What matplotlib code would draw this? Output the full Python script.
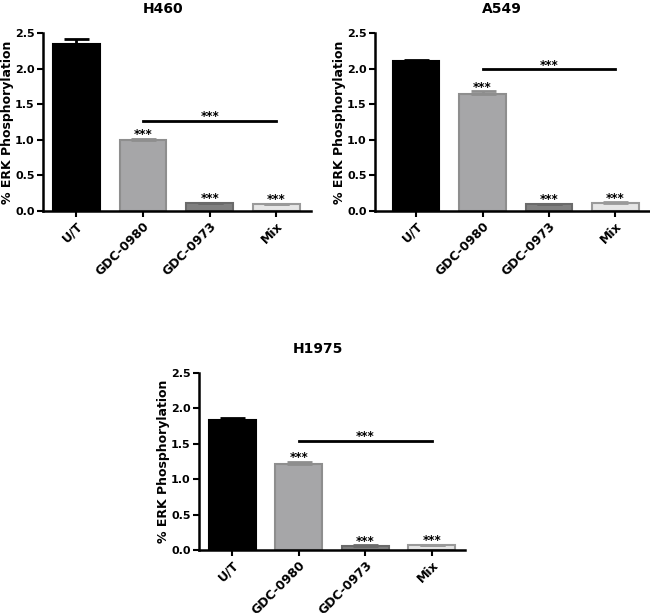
import matplotlib
matplotlib.use("Agg")
import matplotlib.pyplot as plt

categories = ["U/T", "GDC-0980", "GDC-0973", "Mix"]
yticks = [0.0, 0.5, 1.0, 1.5, 2.0, 2.5]

h460_vals = [2.35, 1.00, 0.11, 0.10]
h460_err = [0.07, 0.01, 0.005, 0.005]
h460_line = 1.27

a549_vals = [2.10, 1.65, 0.10, 0.11]
a549_err = [0.02, 0.03, 0.005, 0.01]
a549_line = 1.99

h1975_vals = [1.84, 1.21, 0.06, 0.07]
h1975_err = [0.02, 0.04, 0.005, 0.005]
h1975_line = 1.54

stars = ["", "***", "***", "***"]

fills = ["#000000", "#a6a6a8", "#808080", "#e6e6e6"]
edges = ["#000000", "#8e8e8e", "#6a6a6a", "#9a9a9a"]

plt.rcParams['font.family'] = ['DejaVu Sans']
plt.rcParams['font.weight'] = 'bold'

fig = plt.figure(figsize=(6.5, 6.13), dpi=100)
W, H = 650, 613

def make_ax(left, right, top, bottom):
    return fig.add_axes([left / W, (H - bottom) / H, (right - left) / W, (bottom - top) / H])

panels = [
    ("H460", make_ax(43, 311, 33, 211), h460_vals, h460_err, h460_line, (-0.5, 3.52), 0.448),
    ("A549", make_ax(375, 650, 33, 211), a549_vals, a549_err, a549_line, (-0.62, 3.52), 0.46),
    ("H1975", make_ax(199, 465, 373, 550), h1975_vals, h1975_err, h1975_line, (-0.5, 3.5), 0.447),
]

for title, ax, vals, errs, line_y, xl, tx in panels:
    x = list(range(len(categories)))
    ax.bar(x, vals, width=0.7, color=fills, edgecolor=edges, linewidth=1.5, zorder=2)
    for i in x:
        ax.errorbar(i, vals[i], yerr=[[0], [errs[i]]], fmt='none', ecolor=edges[i],
                    elinewidth=2, capsize=9, capthick=2, zorder=3)
        if stars[i]:
            ax.annotate(stars[i], (i, vals[i] + errs[i]), xytext=(0, 3), textcoords='offset points',
                        ha='center', va='center', fontsize=8.5, fontweight='bold')
    ax.plot([1, 3], [line_y, line_y], color='black', linewidth=2, zorder=3)
    ax.annotate("***", (2, line_y), xytext=(0, 3), textcoords='offset points',
                ha='center', va='center', fontsize=8.5, fontweight='bold')
    ax.set_xlim(*xl)
    ax.set_ylim(0, 2.5)
    ax.set_yticks(yticks)
    ax.set_yticklabels([f"{t:.1f}" for t in yticks], fontsize=8, fontweight='bold')
    ax.set_xticks(x)
    ax.set_xticklabels(categories, rotation=45, ha='right', rotation_mode='anchor',
                       fontsize=9, fontweight='bold')
    ax.tick_params(axis='both', direction='out', width=1.5, length=4, pad=2)
    ax.spines['top'].set_visible(False)
    ax.spines['right'].set_visible(False)
    ax.spines['left'].set_linewidth(1.8)
    ax.spines['bottom'].set_linewidth(1.8)
    ax.set_ylabel("% ERK Phosphorylation", fontsize=9, fontweight='bold', labelpad=1)
    ax.text(tx, 1.0 + 24 / 178, title, transform=ax.transAxes, ha='center', va='center',
            fontsize=10, fontweight='bold')

fig.savefig("out.png", dpi=100)
